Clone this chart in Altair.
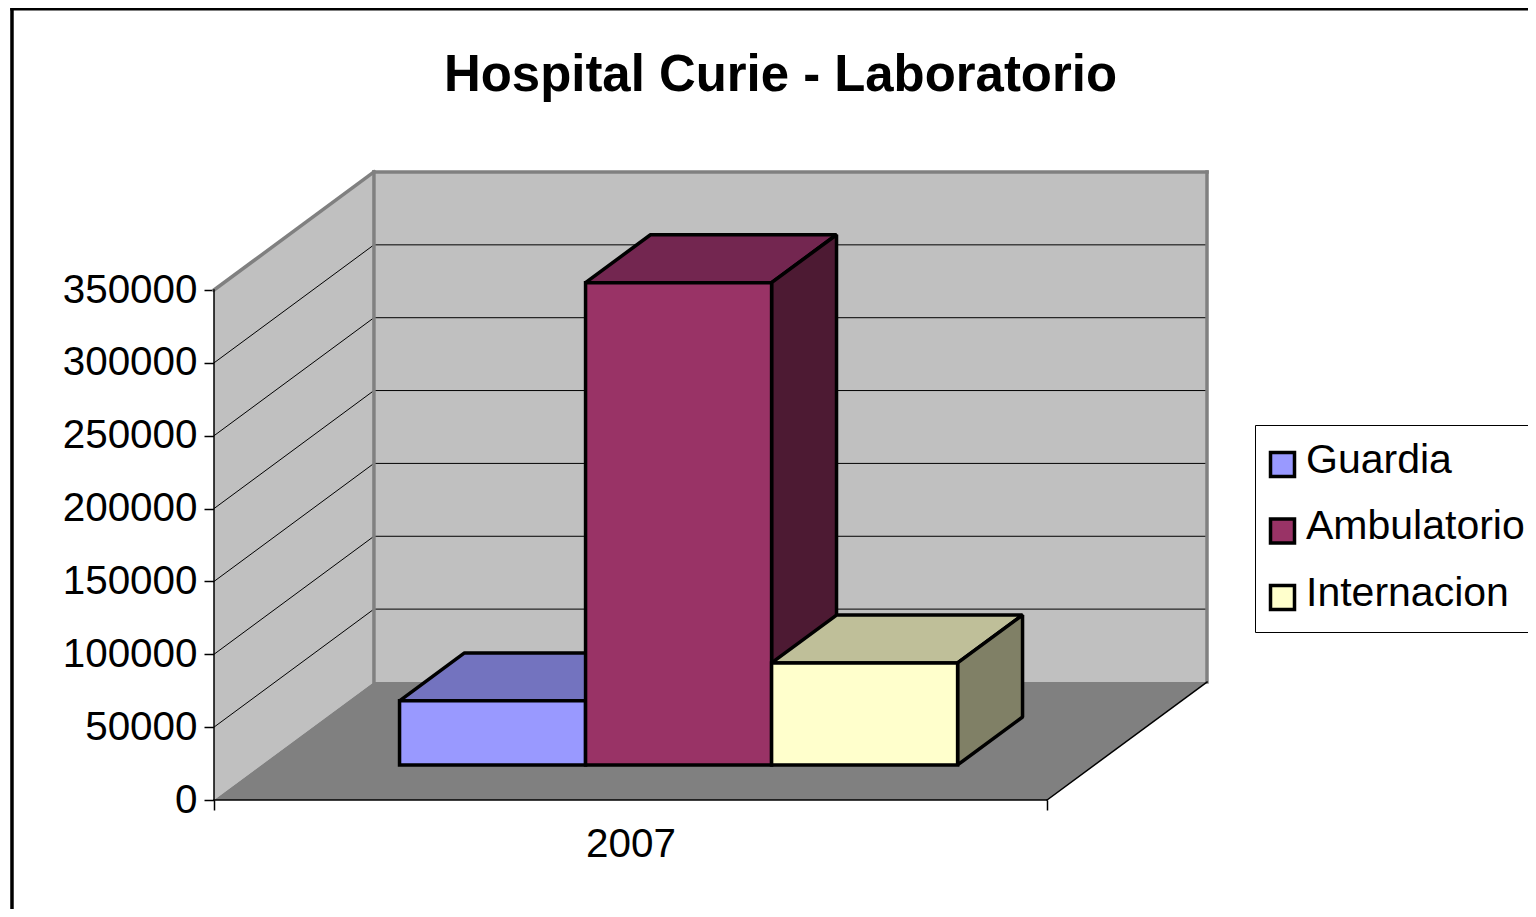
import altair as alt
import pandas as pd

title = "Hospital Curie - Laboratorio"
series = ["Guardia", "Ambulatorio", "Internacion"]
values = [44000, 331000, 70000]
front_colors = ["#9999ff", "#993366", "#ffffcc"]
top_colors = ["#7373bf", "#732650", "#bfbf99"]
side_colors = ["#4d4d80", "#4d1a33", "#808066"]
year = "2007"
y_ticks = [0, 50000, 100000, 150000, 200000, 250000, 300000, 350000]

# 3-D projection, expressed in data units
DEPTH_X = 0.192
DEPTH_Y = 81000
Y_TOP = 350000 + DEPTH_Y
X_END = 1 + DEPTH_X
BAR_W = 0.2233
GAP = 0.1657
D0, D1 = 0.297, 0.703
FRAME_X, FRAME_Y = -0.2425, 543000
FRAME_BOTTOM = -80000

X = alt.Scale(domain=[0, X_END], nice=False, zero=False)
Y = alt.Scale(domain=[0, Y_TOP], nice=False, zero=False)

AXIS_X = alt.Axis(
    values=[0, 0.5, 1], grid=False, domain=False, tickSize=10, tickWidth=1.5,
    tickColor="#000000", title=None,
    tickOpacity={"condition": {"test": "datum.value == 0.5", "value": 0}, "value": 1},
    labelExpr=f"datum.value == 0.5 ? '{year}' : ''",
    labelFontSize=40.4, labelFont="Liberation Sans", labelColor="#000000",
    labelPadding=14, labelOverlap=False, labelFlush=False,
)
AXIS_Y = alt.Axis(
    values=y_ticks, grid=False, domain=False, tickSize=10, tickWidth=1.5,
    tickColor="#000000", format="d", title=None,
    labelFontSize=40.4, labelFont="Liberation Sans", labelColor="#000000",
    labelPadding=7, labelOverlap=False, labelFlush=False,
)


def xenc(f="x"):
    return alt.X(f, type="quantitative", scale=X, axis=AXIS_X, title=None)


def yenc(f="y"):
    return alt.Y(f, type="quantitative", scale=Y, axis=AXIS_Y, title=None)


def segs(rows, color, width):
    df = pd.DataFrame(rows, columns=["x", "y", "x2", "y2"])
    return alt.Chart(df).mark_rule(color=color, strokeWidth=width, strokeCap="square").encode(
        x=xenc(), y=yenc(), x2="x2:Q", y2="y2:Q"
    )


def vertical_face(rows, fill, stroke=None, width=3.5):
    df = pd.DataFrame(rows, columns=["x", "y", "y2"])
    kw = dict(stroke=stroke, strokeWidth=width, strokeJoin="bevel") if stroke else {}
    return alt.Chart(df).mark_area(fill=fill, opacity=1, **kw).encode(
        x=xenc(), y=yenc(), y2="y2:Q"
    )


def horizontal_face(rows, fill, stroke=None, width=3.5):
    df = pd.DataFrame(rows, columns=["y", "x", "x2"])
    kw = dict(stroke=stroke, strokeWidth=width, strokeJoin="bevel") if stroke else {}
    return alt.Chart(df).mark_area(fill=fill, opacity=1, orient="horizontal", **kw).encode(
        y=yenc(), x=xenc(), x2="x2:Q"
    )


layers = []

# Walls and floor
layers.append(vertical_face([(DEPTH_X, DEPTH_Y, Y_TOP), (X_END, DEPTH_Y, Y_TOP)], "#c0c0c0"))
layers.append(vertical_face([(0, 0, 350000), (DEPTH_X, DEPTH_Y, Y_TOP)], "#c0c0c0"))
layers.append(horizontal_face([(0, 0, 1), (DEPTH_Y, DEPTH_X, X_END)], "#808080"))

# Gridlines on the side and back walls
grid_rows = []
for v in y_ticks[1:-1]:
    grid_rows.append((0, v, DEPTH_X, v + DEPTH_Y))
    grid_rows.append((DEPTH_X, v + DEPTH_Y, X_END, v + DEPTH_Y))
layers.append(segs(grid_rows, "#000000", 1))

# Wall outline
layers.append(segs([
    (0, 350000, DEPTH_X, Y_TOP),
    (DEPTH_X, Y_TOP, X_END, Y_TOP),
    (X_END, Y_TOP, X_END, DEPTH_Y),
    (DEPTH_X, Y_TOP, DEPTH_X, DEPTH_Y),
], "#808080", 3.5))

# Floor edges and value-axis line
layers.append(segs([
    (0, 0, 1, 0),
    (1, 0, X_END, DEPTH_Y),
    (0, 0, 0, 350000),
], "#000000", 1.5))

# Bars
color_scale = alt.Scale(domain=series, range=front_colors)
for i, (name, val) in enumerate(zip(series, values)):
    x0 = GAP + D0 * DEPTH_X + i * BAR_W
    x1 = x0 + BAR_W
    dx = (D1 - D0) * DEPTH_X
    y0 = D0 * DEPTH_Y
    dy = (D1 - D0) * DEPTH_Y
    layers.append(horizontal_face(
        [(y0 + val, x0, x1), (y0 + val + dy, x0 + dx, x1 + dx)], top_colors[i], "#000000"))
    layers.append(vertical_face(
        [(x1, y0 + val, y0), (x1 + dx, y0 + val + dy, y0 + dy)], side_colors[i], "#000000"))
    df = pd.DataFrame([{"series": name, "x": x0, "x2": x1, "y": y0, "y2": y0 + val}])
    layers.append(
        alt.Chart(df).mark_rect(stroke="#000000", strokeWidth=3.5, opacity=1).encode(
            x=xenc(), x2="x2:Q", y=yenc(), y2="y2:Q",
            color=alt.Color("series:N", scale=color_scale, sort=series, title=None, legend=alt.Legend(
                orient="none", legendX=1041, legendY=253, title=None,
                strokeColor="#000000", fillColor="#ffffff", padding=15,
                symbolType="M-1,-0.66H1V1.34H-1Z", symbolSize=576, symbolStrokeColor="#000000",
                symbolStrokeWidth=3.5, symbolOpacity=1, symbolOffset=-8,
                labelFontSize=41, labelFont="Liberation Sans", labelColor="#000000",
                labelOffset=3, rowPadding=21.5, labelLimit=400,
            )),
        )
    )

# Outer frame
layers.append(segs([
    (FRAME_X, FRAME_Y, 3, FRAME_Y),
    (FRAME_X, FRAME_Y, FRAME_X, FRAME_BOTTOM),
], "#000000", 3.5))

chart = alt.layer(*layers).properties(
    width=993,
    height=628,
    title=alt.TitleParams(
        text=title, font="Liberation Sans", fontSize=50.9, fontWeight="bold",
        color="#000000", anchor="middle", frame="group", dx=70, offset=-147, baseline="bottom",
    ),
    padding={"left": 206, "top": 164, "right": 321, "bottom": 109},
    autosize=alt.AutoSizeParams(type="none"),
    background="#ffffff",
).configure_view(stroke=None)

chart.save("out.html", embed_options={"renderer": "svg", "actions": False})
